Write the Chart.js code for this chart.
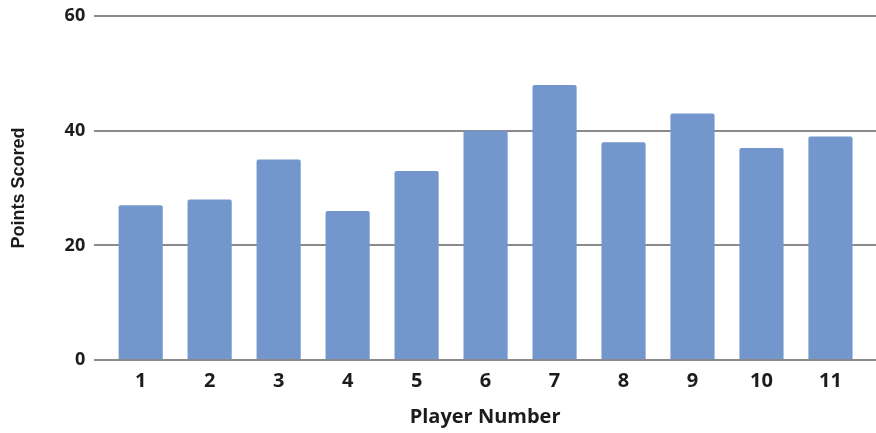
<!DOCTYPE html>
<html>
<head>
<meta charset="utf-8">
<script src="https://cdn.jsdelivr.net/npm/chart.js@4/dist/chart.umd.min.js"></script>
<style>
  html, body { margin: 0; padding: 0; background: #fff; }
  #wrap { width: 876px; height: 433px; }
</style>
</head>
<body>
<div id="wrap"><canvas id="c" width="876" height="433"></canvas></div>
<script>
// Points scored by each player
const players = [1, 2, 3, 4, 5, 6, 7, 8, 9, 10, 11];
const points = [27, 28, 35, 26, 33, 40, 48, 38, 43, 37, 39];
const yTicks = [0, 20, 40, 60];

const SANS = '"Open Sans", "Noto Sans", sans-serif';
const HELV = '"Liberation Sans", Arial, sans-serif';
const INK = '#1c1c1c';

new Chart(document.getElementById('c'), {
  type: 'bar',
  data: {
    datasets: [{
      data: players.map((p, i) => ({ x: p, y: points[i] })),
      backgroundColor: '#7397cd',
      borderRadius: 2,
      borderSkipped: 'bottom',
      categoryPercentage: 1,
      barPercentage: 0.64
    }]
  },
  options: {
    responsive: false,
    animation: false,
    layout: { padding: { top: 3, right: 0, left: 8, bottom: 4 } },
    plugins: { legend: { display: false }, tooltip: { enabled: false } },
    scales: {
      x: {
        type: 'linear',
        offset: false,
        min: 0.326,
        max: 11.66,
        grid: { display: false, drawTicks: false },
        border: { display: false },
        ticks: {
          stepSize: 1,
          includeBounds: false,
          padding: 9,
          color: INK,
          font: { family: SANS, size: 20, weight: 'bold' },
          callback: v => Number.isInteger(v) ? String(v) : ''
        },
        title: {
          display: true,
          text: 'Player Number',
          color: INK,
          font: { family: SANS, size: 20, weight: 'bold' },
          padding: { top: 3, bottom: 0 }
        }
      },
      y: {
        min: 0,
        max: 60,
        afterBuildTicks: s => { s.ticks = yTicks.map(v => ({ value: v })); },
        grid: { color: '#8a8a8a', lineWidth: 2, drawTicks: false },
        border: { display: false },
        ticks: {
          padding: 9,
          color: INK,
          font: { family: SANS, size: 18, weight: 'bold', lineHeight: 0.8 }
        },
        title: {
          display: true,
          text: 'Points Scored',
          color: INK,
          font: { family: HELV, size: 18, weight: 'bold' },
          padding: { top: 0, bottom: 26 }
        }
      }
    }
  }
});
</script>
</body>
</html>
